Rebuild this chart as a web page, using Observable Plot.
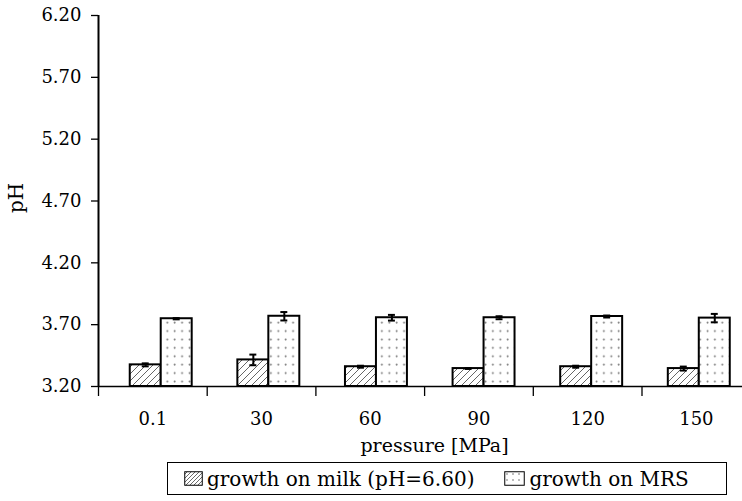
<!DOCTYPE html>
<html>
<head>
<meta charset="utf-8">
<script src="https://cdn.jsdelivr.net/npm/d3@7"></script>
<script src="https://cdn.jsdelivr.net/npm/@observablehq/plot@0.6"></script>
<style>
  html, body { margin: 0; padding: 0; background: #fff; overflow: hidden; }
  #chart svg { display: block; overflow: hidden; }
  .legend {
    position: absolute; left: 167px; top: 462px;
    width: 560px; height: 33px;
    border: 1.5px solid #000; box-sizing: border-box;
    display: flex; align-items: center;
    font-family: "DejaVu Serif", serif; font-size: 20px; color: #000;
  }
  .legend .item { display: flex; align-items: center; }
  .legend svg { display: block; margin-right: 4px; }
</style>
</head>
<body>
<div id="chart"></div>
<div class="legend">
  <div class="item" style="margin-left:16px">
    <svg width="19" height="15">
      <defs>
        <pattern id="hatchSmall" patternUnits="userSpaceOnUse" width="4" height="4">
          <path d="M-1,1 l2,-2 M0,4 l4,-4 M3,5 l2,-2" stroke="#444" stroke-width="0.8"/>
        </pattern>
        <pattern id="dotsSmall" patternUnits="userSpaceOnUse" width="6" height="6" x="2" y="2">
          <circle cx="1" cy="1" r="0.8" fill="#666"/>
        </pattern>
      </defs>
      <rect x="0.75" y="0.75" width="17.5" height="13.5" fill="url(#hatchSmall)" stroke="#000" stroke-width="1"/>
    </svg>
    <span>growth on milk (pH=6.60)</span>
  </div>
  <div class="item" style="margin-left:30px">
    <svg width="21" height="15">
      <rect x="0.75" y="0.75" width="19.5" height="13.5" fill="url(#dotsSmall)" stroke="#000" stroke-width="1"/>
    </svg>
    <span>growth on MRS</span>
  </div>
</div>
<script>
// Pressure levels (MPa) and final pH of the two cultures
const pressures = ["0.1", "30", "60", "90", "120", "150"];
const milk    = [3.375, 3.415, 3.36, 3.345, 3.36, 3.345];
const milkErr = [0.012, 0.043, 0.008, 0.003, 0.008, 0.016];
const mrs     = [3.748, 3.768, 3.756, 3.756, 3.766, 3.753];
const mrsErr  = [0.005, 0.034, 0.023, 0.012, 0.008, 0.034];
const yTicks  = [3.2, 3.7, 4.2, 4.7, 5.2, 5.7, 6.2];

const yDomain = [yTicks[0], yTicks[yTicks.length - 1]];
const barHalf = 0.285;     // width of one bar, in category units
const groupStart = 0.577;  // centre of the first pair of bars
const groupStep = 0.99;    // spacing between pairs of bars

const rows = pressures.flatMap((p, i) => {
  const c = groupStart + groupStep * i;
  return [
    {p, c, x1: c - barHalf, x2: c, value: milk[i], err: milkErr[i], fill: "url(#hatch)"},
    {p, c, x1: c, x2: c + barHalf, value: mrs[i], err: mrsErr[i], fill: "url(#dots)"}
  ];
});

// Pattern definitions for the bar fills
const patterns = () => {
  const defs = d3.create("svg:defs");
  const h = defs.append("pattern")
    .attr("id", "hatch").attr("patternUnits", "userSpaceOnUse")
    .attr("width", 7).attr("height", 7);
  h.append("path")
    .attr("d", "M-1.75,1.75 l3.5,-3.5 M0,7 l7,-7 M5.25,8.75 l3.5,-3.5")
    .attr("stroke", "#555").attr("stroke-width", 0.9);
  const d = defs.append("pattern")
    .attr("id", "dots").attr("patternUnits", "userSpaceOnUse")
    .attr("width", 7.4).attr("height", 8.4).attr("x", 3).attr("y", 2);
  d.append("rect").attr("width", 7.4).attr("height", 8.4).attr("fill", "#fff");
  d.append("circle").attr("cx", 1.5).attr("cy", 1.5).attr("r", 0.95).attr("fill", "#777");
  return defs.node();
};

const mid = d => (d.x1 + d.x2) / 2;

const chart = Plot.plot({
  width: 742,
  height: 458,
  marginTop: 15,
  marginBottom: 72,
  marginLeft: 98,
  marginRight: 0,
  style: {fontFamily: "DejaVu Serif", fontSize: "18px", color: "#000", background: "#fff"},
  x: {domain: [0, pressures.length], range: [98, 750.2]},
  y: {domain: yDomain},
  marks: [
    patterns,
    // bars
    Plot.rect(rows, {
      x1: "x1", x2: "x2",
      y1: () => yDomain[0], y2: "value",
      fill: d => d.fill, stroke: "#000", strokeWidth: 2
    }),
    // error bars
    Plot.ruleX(rows, {
      x: mid, y1: d => d.value - d.err, y2: d => d.value + d.err,
      stroke: "#000", strokeWidth: 2
    }),
    Plot.ruleY(rows, {
      y: d => d.value + d.err, x1: d => mid(d) - 0.032, x2: d => mid(d) + 0.032,
      stroke: "#000", strokeWidth: 2
    }),
    Plot.ruleY(rows, {
      y: d => d.value - d.err, x1: d => mid(d) - 0.032, x2: d => mid(d) + 0.032,
      stroke: "#000", strokeWidth: 2
    }),
    // axes
    Plot.axisY({
      ticks: yTicks, tickFormat: d3.format(".2f"),
      tickSize: 7, tickPadding: 10, label: null, strokeWidth: 1.3
    }),
    Plot.ruleX([0], {y1: yDomain[0], y2: yDomain[1], stroke: "#000", strokeWidth: 2}),
    Plot.ruleY([yDomain[0]], {stroke: "#000", strokeWidth: 1.5}),
    Plot.axisX({
      ticks: d3.range(0, pressures.length + 1), tickSize: 10,
      tickFormat: () => "", label: null, strokeWidth: 1.3
    }),
    Plot.axisX({
      ticks: pressures.map((p, i) => i + 0.5), tickSize: 0, tickPadding: 26,
      tickFormat: d => pressures[Math.round(d - 0.5)], label: null
    }),
    Plot.text(["pressure [MPa]"], {
      frameAnchor: "bottom", lineAnchor: "middle", dx: 14, dy: 59, fontSize: 19
    }),
    Plot.text(["pH"], {
      frameAnchor: "left", lineAnchor: "middle", rotate: -90, dx: -82, dy: 12, fontSize: 20
    })
  ]
});

document.getElementById("chart").appendChild(chart);
</script>
</body>
</html>
